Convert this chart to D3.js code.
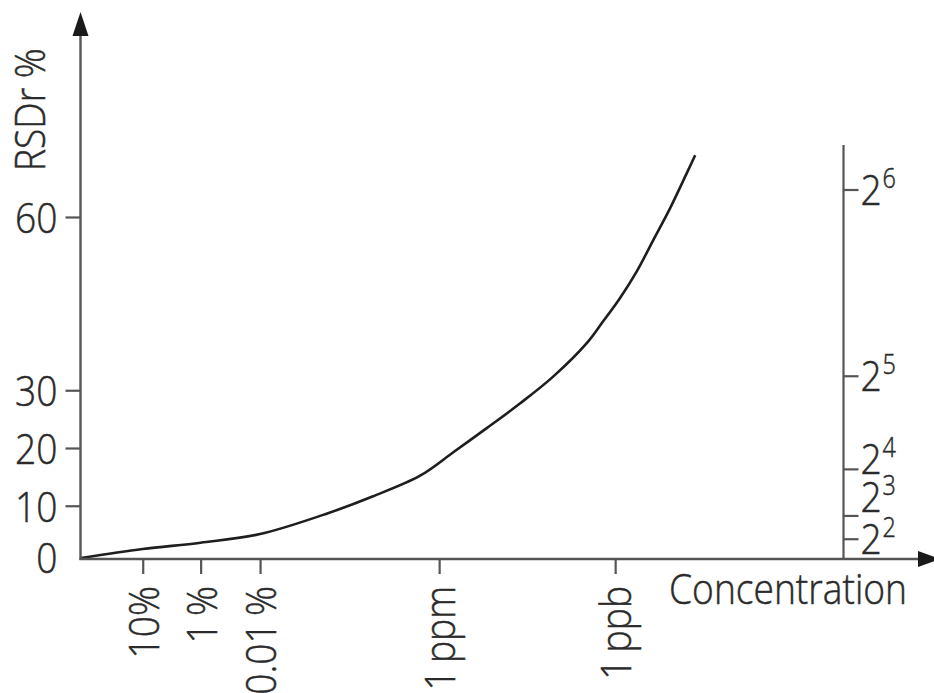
<!DOCTYPE html>
<html>
<head>
<meta charset="utf-8">
<script src="https://cdn.jsdelivr.net/npm/d3@7"></script>
<style>
  html, body { margin: 0; padding: 0; background: #fff; }
  svg { display: block; }
  text { font-family: "Open Sans", "Noto Sans", sans-serif; fill: #2b2b2b; font-weight: 300;
         stroke: #2b2b2b; stroke-width: 0.5px; }
</style>
</head>
<body>
<svg id="chart" width="934" height="693"></svg>
<script>
// ---- data ----
// x positions are schematic (relative position along the concentration axis, 0-100)
const xTickPos    = [8.1, 15.7, 23.5, 47.0, 70.1];
const xTickLabels = ["10%", "1\u2009%", "0.01\u2009%", "1\u2009ppm", "1\u2009ppb"];
const yTicks      = [0, 10, 20, 30, 60];
const rightTicks  = [64, 32, 16, 8, 4];
const rightExps   = ["6", "5", "4", "3", "2"];
const curveX = [0, 8.1, 15.7, 23.5, 32.4, 38.25, 44.5, 48.9, 53.2, 57.6, 62.0, 66.4, 68.5, 70.7, 72.9, 75.1, 77.3, 79.5, 80.6];
const curveY = [0.95, 2.5, 3.6, 5.1, 8.7, 11.6, 15.2, 19.3, 23.4, 27.7, 32.4, 38.2, 41.9, 45.9, 50.5, 56.0, 61.5, 67.6, 70.7];

// ---- layout ----
const FS = 43, SX = 0.865;
const axisColor = "#555";
const xAxisY = 559, yAxisX = 80.5, rightAxisX = 843.5, rightAxisTop = 145;
const rightLabelDy = [0, 0, -10, -19, 0];

const svg = d3.select("#chart");
const x = d3.scaleLinear().domain([0, 100]).range([81, 843]);
const y = d3.scaleLinear().domain([0, 60]).range([563.5, 217]);
const yR = d3.scaleLinear().domain([0, 64]).range([562.5, 190]);

// curve
const line = d3.line().x((d, i) => x(curveX[i])).y(d => y(d)).curve(d3.curveCatmullRom.alpha(0.5));
svg.append("path").datum(curveY).attr("d", line)
  .attr("fill", "none").attr("stroke", "#1e1e1e").attr("stroke-width", 2.6);

// left axis
const gL = svg.append("g").attr("transform", `translate(${yAxisX},0)`)
  .call(d3.axisLeft(y).tickValues(yTicks).tickSize(15).tickPadding(8));
gL.select(".domain").remove();
gL.selectAll(".tick line").attr("stroke", axisColor).attr("stroke-width", 2.2);
gL.selectAll(".tick text")
  .attr("font-size", FS).attr("fill", null).attr("font-family", null)
  .attr("x", -23 / SX).attr("dy", "0.36em")
  .attr("transform", d => d === 0 ? `translate(0,${xAxisY - y(0) - 2}) scale(${SX},1)` : `scale(${SX},1)`);
gL.selectAll(".tick").filter(d => d === 0).select("line").remove();

// bottom axis
const gB = svg.append("g").attr("transform", `translate(0,${xAxisY})`)
  .call(d3.axisBottom(x).tickValues(xTickPos).tickFormat((d, i) => xTickLabels[i]).tickSize(15));
gB.select(".domain").remove();
gB.selectAll(".tick line").attr("stroke", axisColor).attr("stroke-width", 2.2);
gB.selectAll(".tick text")
  .attr("font-size", FS).attr("fill", null).attr("font-family", null)
  .attr("text-anchor", "end")
  .attr("transform", `rotate(-90) scale(${SX},1)`)
  .attr("x", -27 / SX).attr("y", 0).attr("dy", "0.36em");

// right axis
svg.append("line").attr("x1", rightAxisX).attr("x2", rightAxisX)
  .attr("y1", rightAxisTop).attr("y2", xAxisY)
  .attr("stroke", axisColor).attr("stroke-width", 2.2);
const gR = svg.append("g");
rightTicks.forEach((v, i) => {
  const ty = yR(v);
  gR.append("line").attr("x1", rightAxisX).attr("x2", rightAxisX + 15)
    .attr("y1", ty).attr("y2", ty).attr("stroke", axisColor).attr("stroke-width", 2.2);
  const t = gR.append("text")
    .attr("transform", `translate(${rightAxisX + 17},${ty + rightLabelDy[i] + 15}) scale(${SX},1)`)
    .attr("font-size", FS);
  t.append("tspan").text("2");
  t.append("tspan").attr("font-size", 27).attr("dy", -17).attr("dx", 1).text(rightExps[i]);
});

// main axes with arrows
svg.append("line").attr("x1", yAxisX).attr("x2", yAxisX).attr("y1", xAxisY + 1).attr("y2", 34)
  .attr("stroke", axisColor).attr("stroke-width", 2.4);
svg.append("path").attr("d", `M${yAxisX},12 L${yAxisX - 8},36 L${yAxisX + 8},36 Z`).attr("fill", "#1a1a1a");
svg.append("line").attr("x1", yAxisX - 1).attr("x2", 920).attr("y1", xAxisY).attr("y2", xAxisY)
  .attr("stroke", axisColor).attr("stroke-width", 2.4);
svg.append("path").attr("d", `M940,${xAxisY} L918,${xAxisY - 8} L918,${xAxisY + 8} Z`).attr("fill", "#1a1a1a");

// axis titles
svg.append("text").attr("transform", `translate(45,171) rotate(-90) scale(${SX},1)`)
  .attr("font-size", FS).text("RSDr %");
svg.append("text").attr("transform", `translate(669,604) scale(${SX},1)`)
  .attr("font-size", FS).text("Concentration");
</script>
</body>
</html>
